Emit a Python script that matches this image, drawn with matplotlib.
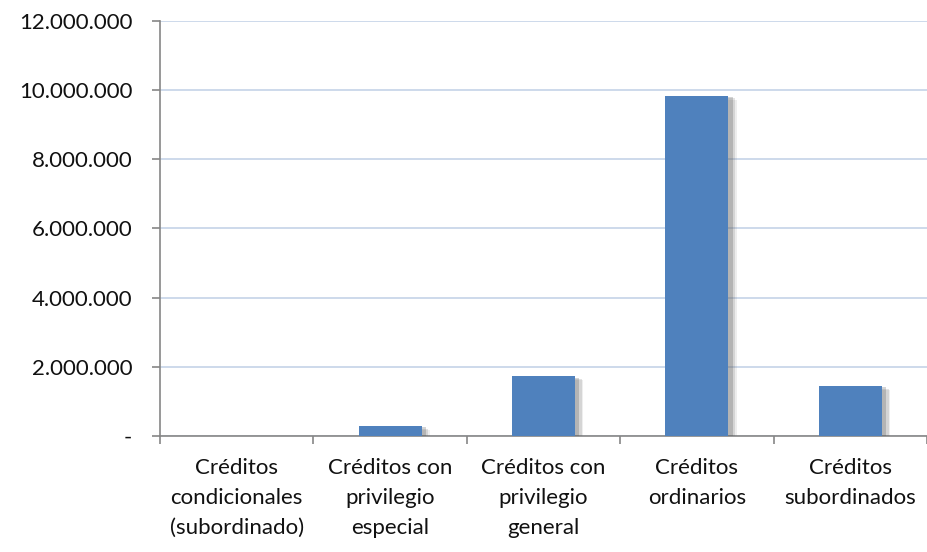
import matplotlib
matplotlib.use("Agg")
import matplotlib.pyplot as plt
import matplotlib.patheffects as pe
from matplotlib.ticker import FuncFormatter, MultipleLocator
import numpy as np

plt.rcParams["font.family"] = ["Lato", "DejaVu Sans"]

categories = [
    "Créditos\ncondicionales\n(subordinado)",
    "Créditos con\nprivilegio\nespecial",
    "Créditos con\nprivilegio\ngeneral",
    "Créditos\nordinarios",
    "Créditos\nsubordinados",
]
values = [0, 290000, 1730000, 9840000, 1450000]

fig = plt.figure(figsize=(9.27, 5.52), dpi=100)
ax = fig.add_axes([160 / 927, 116 / 552, 767 / 927, 415 / 552])

x = np.arange(len(categories))
bars = ax.bar(x, values, width=0.41, color="#4F81BD", zorder=3)
# soft shadow: a few stacked offsets
shadow = [
    pe.SimplePatchShadow(offset=(6, -3), shadow_rgbFace="#777777", alpha=0.12),
    pe.SimplePatchShadow(offset=(5, -2), shadow_rgbFace="#666666", alpha=0.18),
    pe.SimplePatchShadow(offset=(3, -1), shadow_rgbFace="#555555", alpha=0.25),
    pe.Normal(),
]
for b in bars:
    b.set_path_effects(shadow)

ax.set_xlim(-0.5, len(categories) - 0.5)
ax.set_ylim(0, 12000000)
ax.yaxis.set_major_locator(MultipleLocator(2000000))


def fmt(v, pos):
    if v == 0:
        return "-"
    return f"{int(v):,}".replace(",", ".")


ax.yaxis.set_major_formatter(FuncFormatter(fmt))
ax.yaxis.grid(True, color="#C5D3E8", linewidth=1.2, zorder=0)
ax.set_axisbelow(True)

ax.set_xticks(x)
ax.set_xticklabels(categories, fontsize=16, linespacing=1.62, color="#111111")
ax.set_xticks(np.arange(-0.5, len(categories)), minor=True)
ax.tick_params(axis="x", which="major", length=0, pad=16)
ax.tick_params(axis="x", which="minor", length=6, color="#868686", width=1.2)
ax.tick_params(axis="y", length=6, color="#868686", width=1.2, labelsize=16,
               labelcolor="#111111", pad=14)

for s in ["top", "right"]:
    ax.spines[s].set_visible(False)
for s in ["left", "bottom"]:
    ax.spines[s].set_color("#868686")
    ax.spines[s].set_linewidth(1.2)

fig.savefig("out.png", dpi=100)
